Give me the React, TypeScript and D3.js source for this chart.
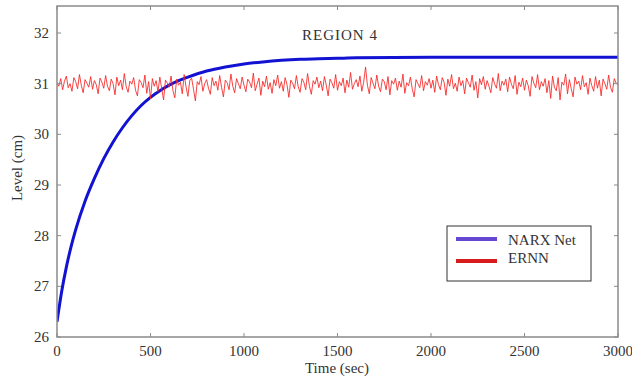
import React from "react";
import * as d3 from "d3";

const X_TICKS = [0, 500, 1000, 1500, 2000, 2500, 3000];
const Y_TICKS = [26, 27, 28, 29, 30, 31, 32];

const NARX_TIME = [0, 25, 50, 75, 100, 150, 200, 250, 300, 350, 400, 450, 500, 550, 600, 650, 700, 800, 900, 1000, 1100, 1200, 1300, 1400, 1500, 1600, 2000, 2500, 3000];
const NARX_LEVEL = [26.3, 26.9, 27.38, 27.78, 28.12, 28.68, 29.13, 29.52, 29.85, 30.13, 30.37, 30.57, 30.73, 30.86, 30.97, 31.06, 31.13, 31.25, 31.33, 31.39, 31.43, 31.46, 31.48, 31.49, 31.5, 31.51, 31.52, 31.52, 31.52];

const ERNN_STEP = 10;
const ERNN_LEVEL = [
  31.02, 30.95, 31.10, 30.88, 31.05, 31.15, 30.92, 31.00, 30.85, 31.12, 31.04, 30.90, 31.18, 30.97, 30.82, 31.08, 31.01, 30.93, 31.14, 30.89,
  31.06, 30.98, 30.80, 31.11, 31.03, 30.91, 31.16, 30.95, 30.86, 31.09, 31.00, 30.78, 31.13, 30.96, 31.07, 30.88, 31.20, 30.94, 30.83, 31.05,
  30.99, 31.12, 30.87, 30.76, 31.08, 31.02, 30.92, 31.17, 30.81, 31.04, 30.70, 31.10, 30.95, 31.06, 30.84, 31.13, 30.90, 30.68, 31.07, 31.01,
  30.93, 31.15, 30.86, 30.72, 31.09, 30.97, 31.03, 30.80, 31.18, 30.94, 30.75, 31.06, 31.11, 30.89, 30.66, 31.04, 30.98, 31.14, 30.85, 31.00,
  31.08, 30.91, 30.79, 31.12, 30.96, 31.05, 30.87, 31.16, 30.93, 30.74, 31.07, 31.02, 30.88, 31.19, 30.95, 30.82, 31.10, 31.00, 30.90, 31.13,
  30.97, 30.84, 31.09, 31.03, 30.92, 31.21, 30.86, 30.99, 31.11, 30.77, 31.05, 30.94, 31.15, 30.89, 31.02, 30.81, 31.08, 30.96, 31.17, 30.91,
  31.04, 30.85, 31.12, 30.98, 30.73, 31.07, 31.01, 30.90, 31.16, 30.94, 30.83, 31.10, 31.03, 30.88, 31.20, 30.95, 30.79, 31.06, 30.99, 31.13,
  30.92, 31.05, 30.86, 31.14, 30.97, 30.76, 31.09, 31.02, 30.91, 31.18, 30.87, 31.04, 30.96, 31.11, 30.82, 31.07, 30.93, 31.22, 30.89, 31.00,
  31.08, 30.94, 31.15, 30.85, 31.03, 31.33, 30.97, 30.80, 31.12, 31.01, 30.90, 31.17, 30.95, 30.84, 31.09, 31.04, 30.88, 31.14, 30.78, 31.06,
  30.99, 31.11, 30.87, 31.05, 30.93, 31.19, 30.81, 31.02, 30.96, 31.13, 30.89, 30.74, 31.08, 31.00, 30.92, 31.16, 30.86, 31.04, 30.97, 31.10,
  30.91, 31.07, 30.83, 31.15, 30.98, 30.88, 31.12, 31.03, 30.77, 31.09, 30.95, 31.18, 30.90, 31.01, 30.85, 31.13, 30.96, 31.06, 30.80, 31.11,
  31.02, 30.93, 31.17, 30.87, 31.04, 30.72, 31.10, 30.98, 31.14, 30.89, 31.06, 30.95, 30.82, 31.12, 31.00, 30.91, 31.20, 30.86, 31.05, 30.97,
  31.09, 30.84, 31.13, 30.99, 30.90, 31.16, 30.79, 31.03, 30.94, 31.11, 30.87, 31.07, 30.96, 30.75, 31.14, 31.01, 30.92, 31.18, 30.88, 31.04,
  30.95, 31.10, 30.82, 31.06, 30.71, 31.15, 30.93, 30.86, 31.12, 30.68, 31.03, 30.97, 31.19, 30.80, 31.08, 30.90, 30.74, 31.13, 30.99, 31.05,
  30.88, 31.16, 30.94, 31.02, 30.79, 31.11, 30.96, 30.85, 31.14, 30.91, 31.07, 30.76, 31.09, 31.00, 30.89, 31.17, 30.93, 30.83, 31.10, 31.01,
  30.98,
];

const LEGEND_LABELS = ["NARX Net", "ERNN"];
const LEGEND_COLORS = ["#6448d2", "#d81c1c"];

export default function App() {
  const W = 632, H = 378;
  const left = 57, right = 618, top = 6, bottom = 337;
  const x = d3.scaleLinear().domain([0, 3000]).range([left, right]);
  const y = d3.scaleLinear().domain([26, 32.533]).range([bottom, top]);

  const narx = d3.line<number>().x((_, i) => x(NARX_TIME[i])).y((d) => y(d)).curve(d3.curveMonotoneX)(NARX_LEVEL) || "";
  const ernn = d3.line<number>().x((_, i) => x(i * ERNN_STEP)).y((d) => y(d))(ERNN_LEVEL) || "";

  const font = "'Liberation Serif', 'Times New Roman', serif";
  const axisColor = "#8a8a8a";
  const textColor = "#333";
  const tickLen = 4;

  return (
    <svg width={W} height={H} style={{ position: "absolute", left: 0, top: 0, background: "#fff" }} fontFamily={font}>
      <rect x={0} y={0} width={W} height={H} fill="#fff" />
      <defs>
        <clipPath id="plot">
          <rect x={left} y={top} width={right - left} height={bottom - top} />
        </clipPath>
      </defs>
      <g clipPath="url(#plot)">
        <path d={narx} fill="none" stroke="#1212d2" strokeWidth={3} />
        <path d={ernn} fill="none" stroke="#f42424" strokeWidth={1} opacity={0.85} />
      </g>
      <rect x={left} y={top} width={right - left} height={bottom - top} fill="none" stroke={axisColor} strokeWidth={1.5} />
      {X_TICKS.map((t) => (
        <g key={"x" + t}>
          <line x1={x(t)} x2={x(t)} y1={bottom} y2={bottom - tickLen} stroke={axisColor} />
          <line x1={x(t)} x2={x(t)} y1={top} y2={top + tickLen} stroke={axisColor} />
          <text x={x(t)} y={356} textAnchor="middle" fontSize={15} fill={textColor}>{t}</text>
        </g>
      ))}
      {Y_TICKS.map((t) => (
        <g key={"y" + t}>
          <line x1={left} x2={left + tickLen} y1={y(t)} y2={y(t)} stroke={axisColor} />
          <line x1={right} x2={right - tickLen} y1={y(t)} y2={y(t)} stroke={axisColor} />
          <text x={49} y={y(t) + 5} textAnchor="end" fontSize={15} fill={textColor}>{t}</text>
        </g>
      ))}
      <text x={337} y={373} textAnchor="middle" fontSize={15} fill={textColor}>Time (sec)</text>
      <text transform={`translate(22,168) rotate(-90)`} textAnchor="middle" fontSize={15} fill={textColor}>Level (cm)</text>
      <text x={340} y={40} textAnchor="middle" fontSize={15} letterSpacing={1} fill={textColor}>REGION 4</text>
      <g>
        <rect x={447} y={226} width={144} height={55} fill="#fff" stroke="#333" strokeWidth={1} />
        {LEGEND_LABELS.map((lab, i) => (
          <g key={lab}>
            <line x1={456} x2={497} y1={239 + i * 22} y2={239 + i * 22} stroke={LEGEND_COLORS[i]} strokeWidth={4} />
            <text x={508} y={245 + i * 18} fontSize={15} fill={textColor}>{lab}</text>
          </g>
        ))}
      </g>
    </svg>
  );
}
